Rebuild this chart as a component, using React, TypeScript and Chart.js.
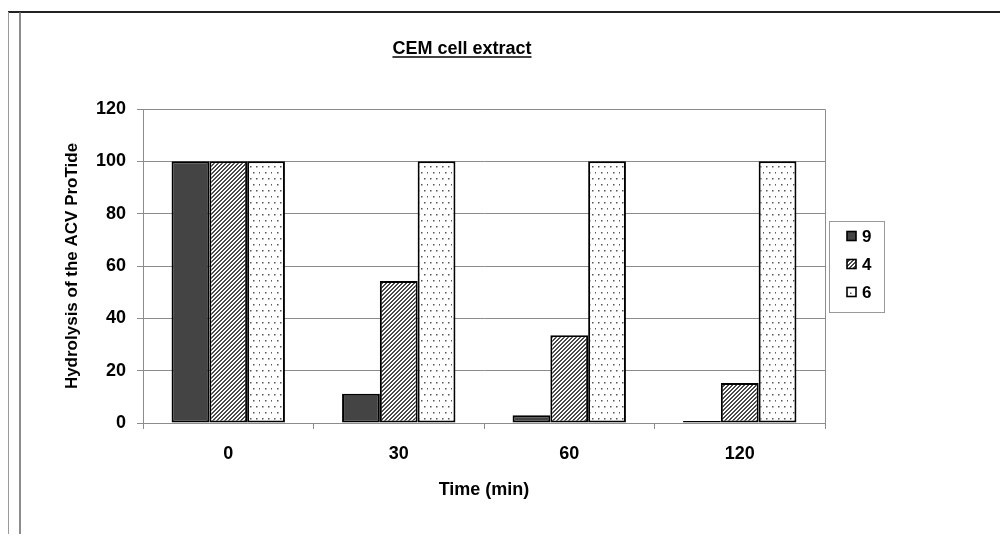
import { useEffect, useRef } from "react";
import { Chart, registerables } from "chart.js";

Chart.register(...registerables);

const categories = ["0", "30", "60", "120"];
const seriesLabels = ["9", "4", "6"];
const series9 = [100, 11.2, 3.0, 0.8];
const series4 = [100, 54.3, 33.5, 15.3];
const series6 = [100, 100, 100, 100];
const yTicks = [0, 20, 40, 60, 80, 100, 120];
const chartTitle = "CEM cell extract";
const xTitle = "Time (min)";
const yTitle = "Hydrolysis of the ACV ProTide";

const FONT = "'Liberation Sans', Arial, sans-serif";
const GRID = "#8c8c8c";

function makeHatch(ctx: CanvasRenderingContext2D) {
  const t = document.createElement("canvas");
  t.width = 4;
  t.height = 4;
  const c = t.getContext("2d")!;
  c.fillStyle = "#ffffff";
  c.fillRect(0, 0, 4, 4);
  c.fillStyle = "#4a4a4a";
  for (let x = 0; x < 4; x++)
    for (let y = 0; y < 4; y++) if ((x + y) % 4 < 2) c.fillRect(x, y, 1, 1);
  return ctx.createPattern(t, "repeat")!;
}

function makeDots(ctx: CanvasRenderingContext2D) {
  const t = document.createElement("canvas");
  t.width = 12;
  t.height = 12;
  const c = t.getContext("2d")!;
  c.fillStyle = "#ffffff";
  c.fillRect(0, 0, 12, 12);
  c.fillStyle = "#555555";
  c.fillRect(2, 2, 1.5, 1.5);
  c.fillRect(8, 2, 1.5, 1.5);
  c.fillRect(5, 8, 1.5, 1.5);
  c.fillRect(11, 8, 1.5, 1.5);
  return ctx.createPattern(t, "repeat")!;
}

export default function App() {
  const ref = useRef<HTMLCanvasElement>(null);

  useEffect(() => {
    document.body.style.overflow = "hidden";
    const canvas = ref.current!;
    const ctx = canvas.getContext("2d")!;
    const fills: (string | CanvasPattern)[] = ["#444444", makeHatch(ctx), makeDots(ctx)];
    const values = [series9, series4, series6];

    const decor = {
      id: "decor",
      beforeDraw(chart: any) {
        const c = chart.ctx as CanvasRenderingContext2D;
        c.save();
        c.fillStyle = "#fff";
        c.fillRect(0, 0, chart.width, chart.height);
        c.strokeStyle = "#222";
        c.lineWidth = 2;
        c.beginPath();
        c.moveTo(0, 4);
        c.lineTo(chart.width, 4);
        c.stroke();
        c.strokeStyle = "#9a9a9a";
        c.lineWidth = 1;
        c.beginPath();
        c.moveTo(0.5, 4);
        c.lineTo(0.5, chart.height);
        c.stroke();
        c.strokeStyle = "#666";
        c.lineWidth = 1.5;
        c.beginPath();
        c.moveTo(12, 4);
        c.lineTo(12, chart.height);
        c.stroke();
        c.strokeStyle = "#888";
        c.lineWidth = 1.5;
        c.beginPath();
        c.moveTo(998.5, 4);
        c.lineTo(998.5, chart.height);
        c.stroke();
        c.font = `bold 18px ${FONT}`;
        c.fillStyle = "#000";
        c.textAlign = "center";
        c.textBaseline = "alphabetic";
        const tx = 454;
        const ty = 46;
        c.fillText(chartTitle, tx, ty);
        const w = c.measureText(chartTitle).width;
        c.strokeStyle = "#000";
        c.lineWidth = 1.5;
        c.beginPath();
        c.moveTo(tx - w / 2, ty + 3);
        c.lineTo(tx + w / 2, ty + 3);
        c.stroke();
        c.restore();
      },
      afterDraw(chart: any) {
        const c = chart.ctx as CanvasRenderingContext2D;
        const a = chart.chartArea;
        c.save();
        c.strokeStyle = GRID;
        c.lineWidth = 1;
        c.beginPath();
        c.moveTo(a.left, a.top + 0.5);
        c.lineTo(a.right + 0.5, a.top + 0.5);
        c.lineTo(a.right + 0.5, a.bottom);
        c.stroke();
        const lx = 821, ly = 213, lw = 55, lh = 91;
        c.strokeStyle = "#999";
        c.lineWidth = 1;
        c.strokeRect(lx + 0.5, ly + 0.5, lw, lh);
        chart.data.datasets.forEach((ds: any, i: number) => {
          const cy = 228 + i * 28;
          c.fillStyle = i === 2 ? "#fff" : ds.backgroundColor;
          c.fillRect(839, cy - 4.5, 9, 9);
          if (i === 2) {
            c.fillStyle = "#555";
            c.fillRect(842, cy + 0.5, 1.5, 1.5);
          }
          c.strokeStyle = "#000";
          c.lineWidth = 1.6;
          c.strokeRect(839, cy - 4.5, 9, 9);
          c.fillStyle = "#000";
          c.font = `bold 17px ${FONT}`;
          c.textAlign = "left";
          c.textBaseline = "middle";
          c.fillText(ds.label, 854, cy + 1);
        });
        c.restore();
      },
    };

    const chart = new Chart(canvas, {
      type: "bar",
      data: {
        labels: categories,
        datasets: seriesLabels.map((label, i) => ({
          label,
          data: values[i],
          backgroundColor: fills[i] as any,
          borderColor: "#000",
          borderWidth: 2,
          borderSkipped: false,
          barPercentage: 1,
          categoryPercentage: 0.665,
        })),
      },
      options: {
        animation: false,
        responsive: false,
        maintainAspectRatio: false,
        layout: { padding: { left: 0, top: 101, right: 183, bottom: 0 } },
        plugins: {
          legend: { display: false },
          title: { display: false },
          tooltip: { enabled: false },
        },
        scales: {
          x: {
            offset: true,
            grid: {
              offset: true,
              drawOnChartArea: false,
              drawTicks: true,
              tickLength: 6,
              color: GRID,
            },
            border: { display: true, color: GRID, width: 1 },
            ticks: {
              color: "#000",
              font: { family: FONT, size: 18, weight: "bold" },
              padding: 14,
              maxRotation: 0,
            },
            title: {
              display: true,
              text: xTitle,
              color: "#000",
              font: { family: FONT, size: 18, weight: "bold" },
              padding: { top: 0, bottom: 33 },
            },
            afterFit: (s: any) => {
              s.height = 111;
            },
          },
          y: {
            min: 0,
            max: 120,
            afterBuildTicks: (s: any) => {
              s.ticks = yTicks.map((v) => ({ value: v }));
            },
            grid: { color: GRID, tickLength: 6, drawTicks: true },
            border: { display: true, color: GRID, width: 1 },
            ticks: {
              color: "#000",
              font: { family: FONT, size: 18, weight: "bold" },
              padding: 11,
            },
            title: {
              display: true,
              text: yTitle,
              color: "#000",
              font: { family: FONT, size: 17, weight: "bold" },
              padding: { top: 54, bottom: 0 },
            },
            afterFit: (s: any) => {
              s.width = 135;
            },
          },
        },
      } as any,
      plugins: [decor],
    });

    return () => chart.destroy();
  }, []);

  return (
    <div style={{ width: 1000, height: 526 }}>
      <canvas ref={ref} width={1000} height={526} style={{ display: "block" }} />
    </div>
  );
}
